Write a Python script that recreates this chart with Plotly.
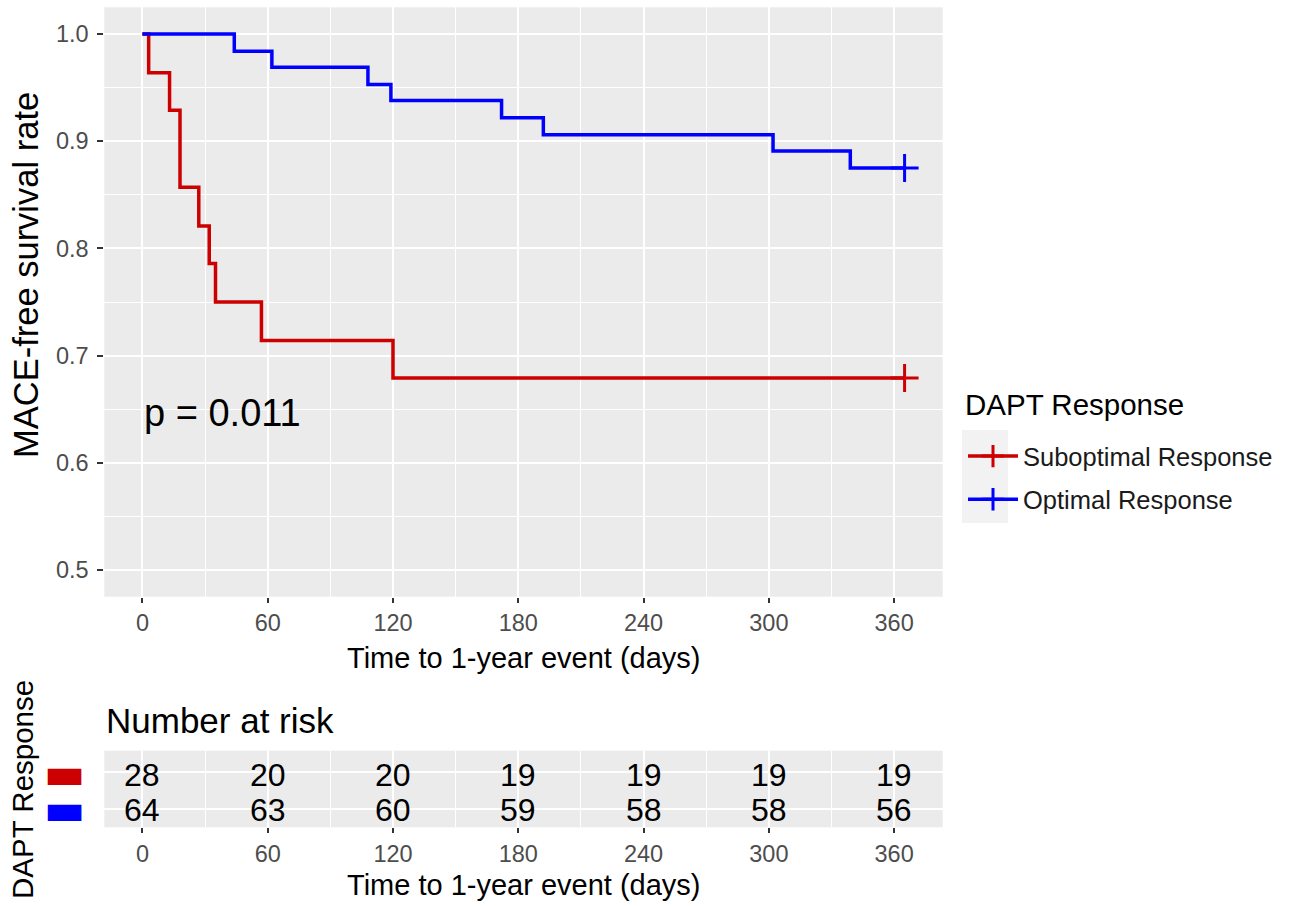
import plotly.graph_objects as go

# ---- data ----
sub_time = [0, 3, 13, 18, 27, 32, 35, 57, 120, 365]
sub_surv = [1.0, 0.964, 0.929, 0.857, 0.821, 0.786, 0.750, 0.714, 0.679, 0.679]
opt_time = [0, 44, 62, 108, 119, 172, 192, 302, 339, 365]
opt_surv = [1.0, 0.984, 0.969, 0.953, 0.938, 0.922, 0.906, 0.891, 0.875, 0.875]
censor_time = [365]
sub_censor = [0.679]
opt_censor = [0.875]

risk_times = [0, 60, 120, 180, 240, 300, 360]
risk_sub = [28, 20, 20, 19, 19, 19, 19]
risk_opt = [64, 63, 60, 59, 58, 58, 56]

group_names = ["Suboptimal Response", "Optimal Response"]
colors = ["#CC0000", "#0000FF"]
p_text = "p = 0.011"

W, H = 1292, 906
FONT = "Liberation Sans, Arial, sans-serif"

def px(v):
    return v / W

def py(v):
    return 1 - v / H

fig = go.Figure()

for t, s, ct, cs, name, col in [
    (sub_time, sub_surv, censor_time, sub_censor, group_names[0], colors[0]),
    (opt_time, opt_surv, censor_time, opt_censor, group_names[1], colors[1]),
]:
    fig.add_trace(go.Scatter(
        x=t, y=s, mode="lines", line=dict(color=col, width=3.5, shape="hv"),
        name=name, legendgroup=name, showlegend=False, xaxis="x", yaxis="y"))
    fig.add_trace(go.Scatter(
        x=ct, y=cs, mode="markers+lines", name=name, legendgroup=name,
        line=dict(color=col, width=3.5),
        marker=dict(symbol="cross-thin-open", size=20, color=col,
                    line=dict(color=col, width=3)),
        showlegend=True, xaxis="x", yaxis="y"))

# risk table (invisible anchor trace so the axes exist)
fig.add_trace(go.Scatter(x=risk_times, y=[2] * len(risk_times), mode="markers",
                         marker=dict(opacity=0), hoverinfo="skip",
                         showlegend=False, xaxis="x2", yaxis="y2"))
for level, values in [(2, risk_sub), (1, risk_opt)]:
    for t, v in zip(risk_times, values):
        fig.add_annotation(text=str(v), x=t, y=level, xref="x2", yref="y2",
                           showarrow=False, xanchor="center", yanchor="middle",
                           yshift=-3 if level == 2 else -1,
                           font=dict(size=32, color="black", family=FONT))

xdom = [px(104.3), px(942.7)]
xr = [-18.25, 383.25]
tickfont = dict(size=23.5, color="#4D4D4D", family=FONT)

common_x = dict(range=xr, domain=xdom, tickmode="array", tickvals=risk_times,
                ticktext=[str(v) for v in risk_times], showgrid=True,
                gridcolor="white", gridwidth=2, zeroline=False, ticks="outside",
                ticklen=5, tickwidth=1.5, tickcolor="#333333", tickfont=tickfont,
                minor=dict(tickmode="array", tickvals=[30, 90, 150, 210, 270, 330],
                           showgrid=True, gridcolor="white", gridwidth=1.2, ticks=""),
                showline=False, automargin=False, fixedrange=True)

fig.update_layout(
    width=W, height=H,
    margin=dict(l=0, r=0, t=0, b=0),
    paper_bgcolor="white", plot_bgcolor="#EBEBEB",
    font=dict(family=FONT, color="black"),
    xaxis=dict(common_x, anchor="y", ticklabelstandoff=0),
    yaxis=dict(domain=[py(596.7), py(7.3)], range=[0.475, 1.025],
               tickmode="array", tickvals=[0.5, 0.6, 0.7, 0.8, 0.9, 1.0],
               ticktext=["0.5", "0.6", "0.7", "0.8", "0.9", "1.0"],
               showgrid=True, gridcolor="white", gridwidth=2, zeroline=False,
               ticks="outside", ticklen=6, tickwidth=1.5, tickcolor="#333333",
               tickfont=tickfont, ticklabelstandoff=4,
               minor=dict(tickmode="array", tickvals=[0.55, 0.65, 0.75, 0.85, 0.95],
                          showgrid=True, gridcolor="white", gridwidth=1.2, ticks=""),
               anchor="x", automargin=False, fixedrange=True),
    xaxis2=dict(common_x, anchor="y2", ticklabelstandoff=0),
    yaxis2=dict(domain=[py(827.3), py(750.7)], range=[0.5, 2.59],
                tickmode="array", tickvals=[2, 1],
                ticktext=["<span style='color:%s'>▬</span>" % colors[0],
                          "<span style='color:%s'>▬</span>" % colors[1]],
                tickfont=dict(size=44, family="DejaVu Sans"),
                showgrid=True, gridcolor="white", gridwidth=2, zeroline=False,
                ticks="", ticklabelstandoff=18,
                anchor="x2", automargin=False, fixedrange=True),
    legend=dict(x=px(963), y=py(433), xanchor="left", yanchor="top",
                bgcolor="rgba(0,0,0,0)",
                font=dict(size=25.5, color="#1A1A1A", family=FONT),
                itemwidth=50, tracegroupgap=7),
    showlegend=True,
)

# grey key background in legend
fig.add_shape(type="rect", xref="paper", yref="paper",
              x0=px(962), x1=px(1008), y0=py(523), y1=py(430),
              fillcolor="#F2F2F2", line=dict(width=0), layer="above")

fig.add_annotation(text="DAPT Response", x=px(963), y=py(405), xref="paper",
                   yref="paper", showarrow=False, xanchor="left", yanchor="middle",
                   font=dict(size=29.5, color="black", family=FONT))

ann = [
    dict(text="Time to 1-year event (days)", x=px(523.5), y=py(658), size=29),
    dict(text="Time to 1-year event (days)", x=px(523.5), y=py(885), size=29),
]
for a in ann:
    fig.add_annotation(text=a["text"], x=a["x"], y=a["y"], xref="paper", yref="paper",
                       showarrow=False, xanchor="center", yanchor="middle",
                       font=dict(size=a["size"], color="black", family=FONT))

fig.add_annotation(text="MACE-free survival rate", x=px(26), y=py(275), xref="paper",
                   yref="paper", showarrow=False, textangle=-90, xanchor="center",
                   yanchor="middle", font=dict(size=34.5, color="black", family=FONT))
fig.add_annotation(text="DAPT Response", x=px(22), y=py(790), xref="paper",
                   yref="paper", showarrow=False, textangle=-90, xanchor="center",
                   yanchor="middle", font=dict(size=29.5, color="black", family=FONT))
fig.add_annotation(text="Number at risk", x=px(104), y=py(720), xref="paper",
                   yref="paper", showarrow=False, xanchor="left", yanchor="middle",
                   font=dict(size=35, color="black", family=FONT))
fig.add_annotation(text=p_text, x=0, y=0.646, xref="x", yref="y",
                   showarrow=False, xanchor="left", yanchor="middle",
                   font=dict(size=38, color="black", family=FONT))

fig.write_html("out.html")
